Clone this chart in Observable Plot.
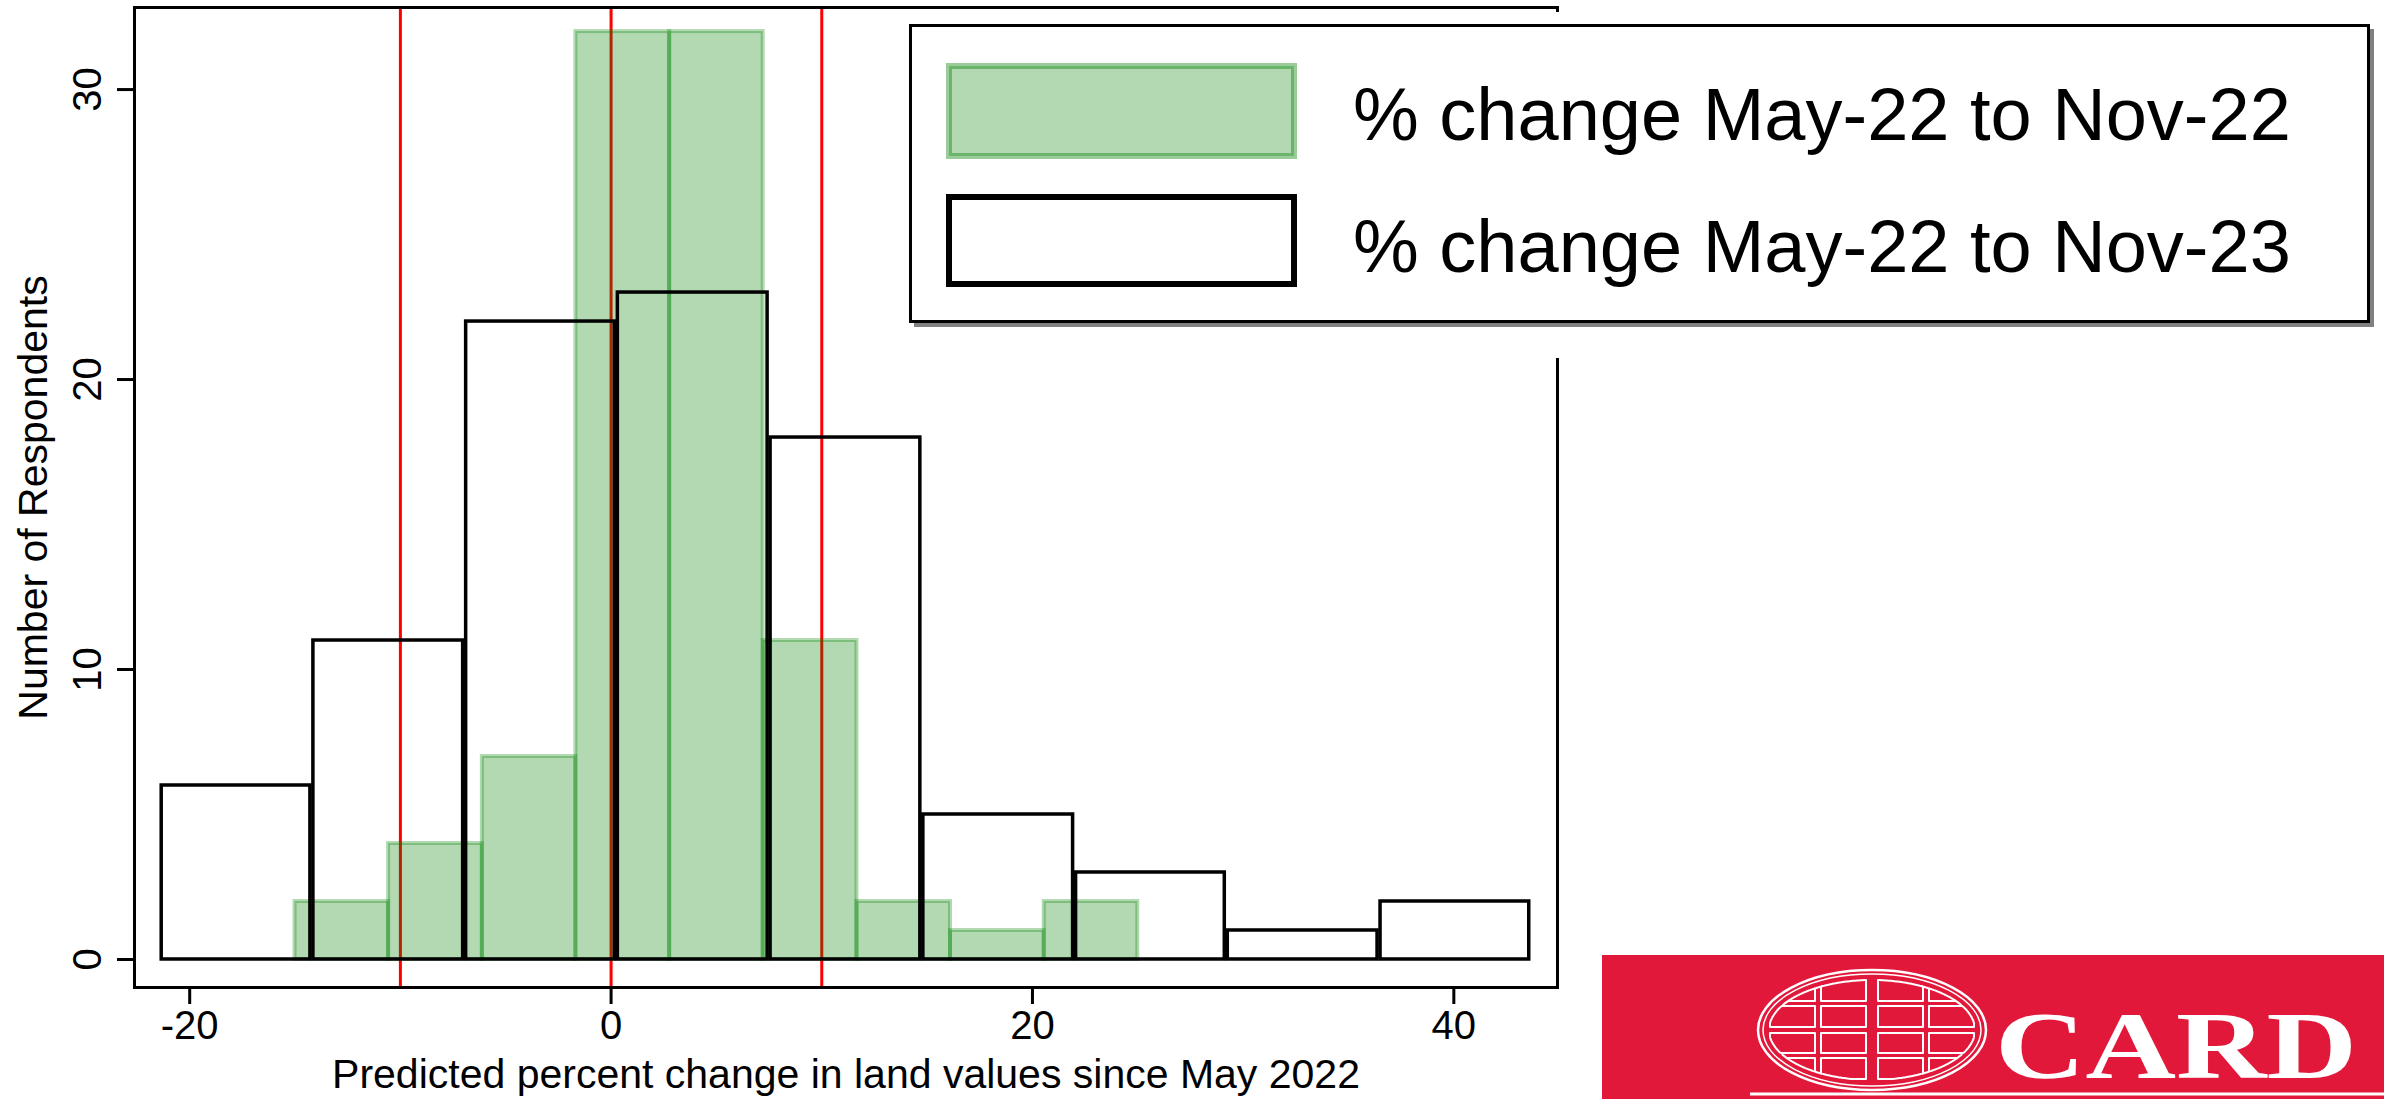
<!DOCTYPE html>
<html>
<head>
<meta charset="utf-8">
<script src="https://cdn.jsdelivr.net/npm/d3@7"></script>
<script src="https://cdn.jsdelivr.net/npm/@observablehq/plot@0.6"></script>
<style>
  html, body { margin: 0; padding: 0; background: #fff; }
  #wrap { position: relative; width: 2384px; height: 1099px; overflow: hidden; background: #fff;
          font-family: "Liberation Sans", Arial, sans-serif; }
  #chart { position: absolute; left: 0; top: 0; }
  #overlay { position: absolute; left: 0; top: 0; }
</style>
</head>
<body>
<div id="wrap"><div id="chart"></div><div id="overlay"></div></div>
<script>
// ---------------- data ----------------
// % change May-22 to Nov-22 (green histogram)
const nov22Start = [-15, -10.56, -6.11, -1.67, 2.78, 7.22, 11.67, 16.11, 20.56];
const nov22End   = [-10.56, -6.11, -1.67, 2.78, 7.22, 11.67, 16.11, 20.56, 25];
const nov22Count = [2, 4, 7, 32, 32, 11, 2, 1, 2];
// % change May-22 to Nov-23 (hollow black histogram)
const nov23Start = [-21.4, -14.2, -6.95, 0.25, 7.5, 14.75, 22.0, 29.2, 36.45];
const nov23End   = [-14.2, -6.95, 0.25, 7.5, 14.75, 22.0, 29.2, 36.45, 43.65];
const nov23Count = [6, 11, 22, 23, 18, 5, 3, 1, 2];
// reference lines
const redLines = [-10, 0, 10];
// ticks
const xTicks = [-20, 0, 20, 40];
const yTicks = [0, 10, 20, 30];
// texts
const xTitle = "Predicted percent change in land values since May 2022";
const yTitle = "Number of Respondents";
const legendLabels = ["% change May-22 to Nov-22", "% change May-22 to Nov-23"];
const logoText = "CARD";

// ---------------- build tables ----------------
const nov22 = nov22Count.map((n, i) => ({x1: nov22Start[i], x2: nov22End[i], n}));
const nov23 = nov23Count.map((n, i) => ({x1: nov23Start[i], x2: nov23End[i], n}));

const FONT = "Liberation Sans, Arial, sans-serif";

const chart = Plot.plot({
  width: 1600,
  height: 1099,
  marginLeft: 134,
  marginRight: 43,
  marginTop: 7,
  marginBottom: 112,
  style: {fontFamily: FONT, fontSize: "40px", background: "white", color: "black", overflow: "visible"},
  x: {domain: [-22.62, 44.92]},
  y: {domain: [-0.966, 32.83]},
  marks: [
    Plot.ruleX(redLines, {x: d => d, stroke: "#ff0000", strokeWidth: 3}),
    Plot.rectY(nov22, {x1: "x1", x2: "x2", y1: 0, y2: "n",
      fill: "rgb(0,128,0)", fillOpacity: 0.3,
      stroke: "rgb(0,128,0)", strokeOpacity: 0.3, strokeWidth: 4}),
    Plot.rectY(nov23, {x1: "x1", x2: "x2", y1: 0, y2: "n",
      fill: "none", stroke: "black", strokeWidth: 3.5, insetLeft: 1.5, insetRight: 1.5}),
    Plot.frame({stroke: "black", strokeWidth: 3}),
    Plot.axisX(xTicks, {tickSize: 17, tickPadding: 6, fontSize: 40, strokeWidth: 3,
      tickFormat: d => String(d), label: null}),
    Plot.axisY(yTicks, {tickSize: 17, strokeWidth: 3, tickFormat: () => "", label: null}),
    Plot.text(yTicks, {y: d => d, text: d => String(d), frameAnchor: "left", dx: -46,
      rotate: -90, fontSize: 40, textAnchor: "middle", lineAnchor: "middle", fill: "black"}),
    Plot.text([yTitle], {text: d => d, frameAnchor: "left", dx: -101, rotate: -90,
      fontSize: 41, textAnchor: "middle", lineAnchor: "middle", fill: "black"}),
    Plot.text([xTitle], {text: d => d, frameAnchor: "bottom", dy: 87,
      fontSize: 41, textAnchor: "middle", lineAnchor: "middle", fill: "black"})
  ]
});
document.getElementById("chart").appendChild(chart);

// ---------------- legend + logo overlay ----------------
const NS = "http://www.w3.org/2000/svg";
const svg = d3.select("#overlay").append("svg")
  .attr("xmlns", NS).attr("width", 2384).attr("height", 1099)
  .style("display", "block");

// white area behind the legend (hides the plot's right border there)
svg.append("rect").attr("x", 898).attr("y", 12).attr("width", 1486).attr("height", 346).attr("fill", "white");
// legend shadow + box
svg.append("rect").attr("x", 914).attr("y", 29).attr("width", 1460).attr("height", 298).attr("fill", "#808080");
svg.append("rect").attr("x", 910.5).attr("y", 25.5).attr("width", 1458).attr("height", 296)
  .attr("fill", "white").attr("stroke", "black").attr("stroke-width", 3);
// swatches
svg.append("rect").attr("x", 949).attr("y", 66).attr("width", 345).attr("height", 90)
  .attr("fill", "rgb(0,128,0)").attr("fill-opacity", 0.3)
  .attr("stroke", "rgb(0,128,0)").attr("stroke-opacity", 0.4).attr("stroke-width", 6);
svg.append("rect").attr("x", 949).attr("y", 197).attr("width", 345).attr("height", 87)
  .attr("fill", "white").attr("stroke", "black").attr("stroke-width", 6);
legendLabels.forEach((t, i) => {
  svg.append("text").attr("x", 1353).attr("y", i === 0 ? 140 : 272)
    .attr("font-family", FONT).attr("font-size", 74).attr("fill", "black").text(t);
});

// CARD logo
const logo = svg.append("g");
logo.append("rect").attr("x", 1602).attr("y", 955).attr("width", 782).attr("height", 144).attr("fill", "#e2183a");
const cx = 1872, cy = 1030;
logo.append("ellipse").attr("cx", cx).attr("cy", cy).attr("rx", 114).attr("ry", 60)
  .attr("fill", "none").attr("stroke", "white").attr("stroke-width", 2.5);
logo.append("ellipse").attr("cx", cx).attr("cy", cy).attr("rx", 109).attr("ry", 56)
  .attr("fill", "none").attr("stroke", "white").attr("stroke-width", 1.5);
const cols = [[1770, 1815], [1821, 1866], [1878, 1923], [1929, 1974]];
const rows = [[980, 1001], [1006, 1027], [1033, 1053], [1058, 1079]];
const erx = 103, ery = 50;
function proj(x, y) {
  const t = ((x - cx) / erx) ** 2 + ((y - cy) / ery) ** 2;
  if (t <= 1) return [x, y];
  const s = 1 / Math.sqrt(t);
  return [cx + (x - cx) * s, cy + (y - cy) * s];
}
rows.forEach(([y0, y1]) => cols.forEach(([x0, x1]) => {
  const pts = [];
  const N = 24;
  for (let k = 0; k < N; k++) pts.push(proj(x0 + (x1 - x0) * k / N, y0));
  for (let k = 0; k < N; k++) pts.push(proj(x1, y0 + (y1 - y0) * k / N));
  for (let k = 0; k < N; k++) pts.push(proj(x1 - (x1 - x0) * k / N, y1));
  for (let k = 0; k < N; k++) pts.push(proj(x0, y1 - (y1 - y0) * k / N));
  logo.append("path").attr("d", "M" + pts.map(p => p[0].toFixed(1) + "," + p[1].toFixed(1)).join("L") + "Z")
    .attr("fill", "none").attr("stroke", "white").attr("stroke-width", 2).attr("stroke-linejoin", "round");
}));
logo.append("text").attr("x", 1995).attr("y", 1078)
  .attr("font-family", "Liberation Serif, Times New Roman, serif").attr("font-weight", "bold")
  .attr("font-size", 96).attr("fill", "white")
  .attr("textLength", 362).attr("lengthAdjust", "spacingAndGlyphs").text(logoText);
logo.append("line").attr("x1", 1750).attr("x2", 2384).attr("y1", 1094).attr("y2", 1094)
  .attr("stroke", "white").attr("stroke-width", 3);
</script>
</body>
</html>
